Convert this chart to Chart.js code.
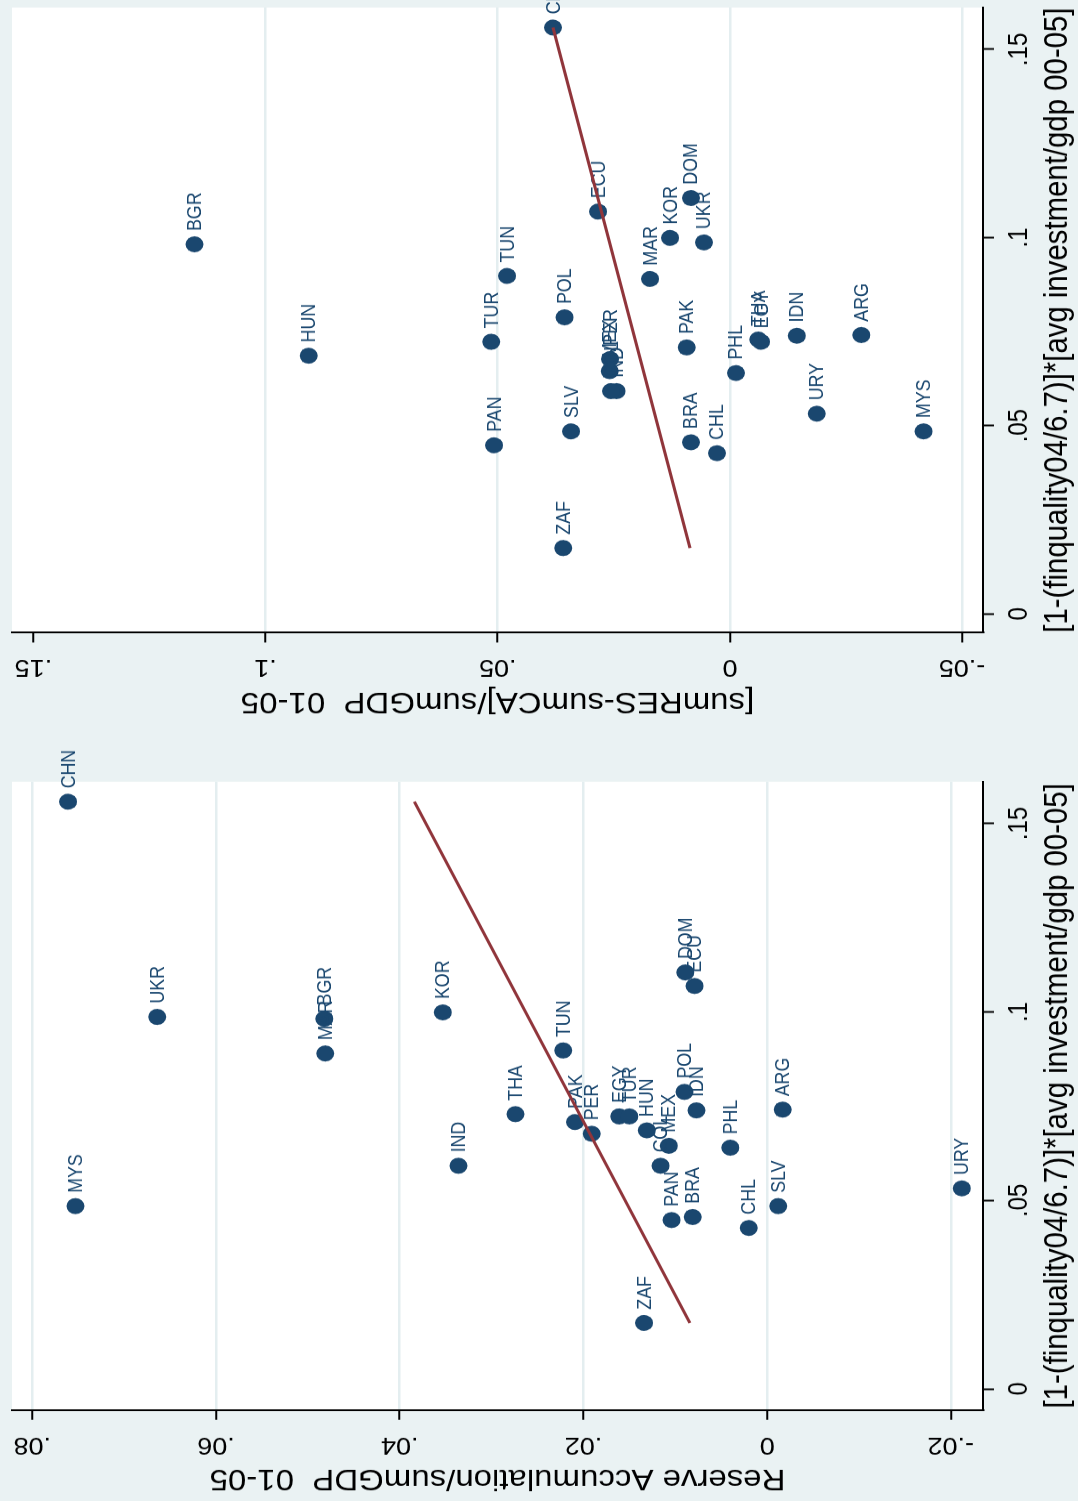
<!DOCTYPE html>
<html>
<head>
<meta charset="utf-8">
<title>Reserve accumulation and investment</title>
<script src="https://cdn.jsdelivr.net/npm/chart.js@4.4.1/dist/chart.umd.min.js"></script>
<style>
  html, body { margin: 0; padding: 0; background: #eaf2f3; overflow: hidden; }
  body { width: 1078px; height: 1501px; position: relative; }
  #fig { position: absolute; left: 0; top: 0; height: 1078px; transform-origin: 0 0; background: #eaf2f3; }
  #fig canvas { position: absolute; top: 0; }
</style>
</head>
<body>
<div id="fig">
  <canvas id="leftChart"></canvas>
  <canvas id="rightChart"></canvas>
</div>
<script>
// country codes, same order in every series below
const countries = ['CHN','MYS','UKR','MAR','BGR','KOR','IND','THA','TUN','PAK','PER','EGY','TUR','HUN',
  'ZAF','MEX','COL','PAN','POL','DOM','BRA','ECU','IDN','PHL','CHL','SLV','ARG','URY'];

// [1-(finquality04/6.7)]*[avg investment/gdp 00-05]
const investment = [0.1558, 0.0485, 0.0987, 0.0890, 0.0982, 0.0999, 0.0592, 0.0729, 0.0898, 0.0708,
  0.0677, 0.0723, 0.0723, 0.0686, 0.0175, 0.0645, 0.0592, 0.0448, 0.0788, 0.1105,
  0.0456, 0.1069, 0.0739, 0.0640, 0.0427, 0.0485, 0.0741, 0.0532];

// Reserve Accumulation/sumGDP 01-05
const reserveAcc = [0.0761, 0.0753, 0.0664, 0.0481, 0.0482, 0.0353, 0.0336, 0.0274, 0.0222, 0.0209,
  0.0191, 0.0161, 0.0150, 0.0131, 0.0134, 0.0107, 0.0116, 0.0104, 0.0090, 0.0089,
  0.0081, 0.0079, 0.0077, 0.0040, 0.0020, -0.0012, -0.0017, -0.0212];

// [sumRES-sumCA]/sumGDP 01-05
const reserveNetCA = [0.0381, -0.0417, 0.0056, 0.0172, 0.1153, 0.0129, 0.0244, -0.0061, 0.0480, 0.0093,
  0.0258, -0.0067, 0.0514, 0.0907, 0.0359, 0.0259, 0.0256, 0.0508, 0.0356, 0.0084,
  0.0084, 0.0284, -0.0144, -0.0013, 0.0028, 0.0342, -0.0283, -0.0187];

// fitted lines, evaluated at the ends of the investment range
const fitInvest = [0.0175, 0.1558];
const fitReserveAcc = [0.0084, 0.0384];
const fitReserveNetCA = [0.0086, 0.0381];

// tick marks and their labels
const investTicks = [0, 0.05, 0.1, 0.15];
const investTickLabels = ['0', '.05', '.1', '.15'];
const accTicks = [-0.02, 0, 0.02, 0.04, 0.06, 0.08];
const accTickLabels = ['-.02', '0', '.02', '.04', '.06', '.08'];
const netTicks = [-0.05, 0, 0.05, 0.1, 0.15];
const netTickLabels = ['-.05', '0', '.05', '.1', '.15'];

const NAVY = '#1a476f';
const MAROON = '#90353b';
const GRID = '#e4eef0';
const FONT = '"Liberation Sans", Arial, Helvetica, sans-serif';

// the two graphs sit side by side, squeezed horizontally, then turned on their side
const SQUEEZE = 0.89;
const leftW = Math.round(750 / SQUEEZE);
const rightW = Math.round(751 / SQUEEZE);
const axisW = 91 / SQUEEZE;

const fig = document.getElementById('fig');
fig.style.width = (leftW + rightW) + 'px';
fig.style.transform = 'translate(0px, 1501px) rotate(-90deg) scale(' + SQUEEZE + ', 1)';

Chart.defaults.font.family = FONT;
Chart.defaults.color = '#000';

// white plot region
const plotBackground = {
  id: 'plotBackground',
  beforeDraw(chart) {
    const { ctx, chartArea: a } = chart;
    ctx.save();
    ctx.fillStyle = '#ffffff';
    ctx.fillRect(a.left, a.top, a.right - a.left, a.bottom - a.top);
    ctx.restore();
  }
};

// country code to the right of each marker
const pointLabels = {
  id: 'pointLabels',
  afterDatasetDraw(chart, args) {
    if (args.index !== 0) return;
    const ctx = chart.ctx;
    ctx.save();
    ctx.font = '20px ' + FONT;
    ctx.fillStyle = NAVY;
    ctx.textAlign = 'left';
    ctx.textBaseline = 'middle';
    args.meta.data.forEach((pt, i) => {
      ctx.fillText(countries[i], pt.x + 15, pt.y + 1);
    });
    ctx.restore();
  }
};

// fixed axis boxes, no extra room for overhanging tick labels
function fixBox(s, size) {
  if (s.isHorizontal()) s.height = size; else s.width = size;
  s.paddingTop = 0;
  s.paddingBottom = 0;
  s.paddingLeft = 0;
  s.paddingRight = 0;
}

function makeChart(id, cfg) {
  const canvas = document.getElementById(id);
  canvas.width = cfg.width;
  canvas.height = 1078;
  canvas.style.left = cfg.left + 'px';

  const points = countries.map((c, i) => ({ x: investment[i], y: cfg.values[i] }));
  const fit = fitInvest.map((x, i) => ({ x: x, y: cfg.fit[i] }));

  return new Chart(canvas, {
    type: 'scatter',
    data: {
      datasets: [
        {
          data: points,
          pointRadius: 9,
          pointHoverRadius: 9,
          backgroundColor: NAVY,
          borderWidth: 0,
          order: 1
        },
        {
          type: 'line',
          data: fit,
          borderColor: MAROON,
          borderWidth: 3,
          pointRadius: 0,
          fill: false,
          order: 0
        }
      ]
    },
    options: {
      responsive: false,
      animation: false,
      devicePixelRatio: 1,
      layout: { padding: { left: cfg.padLeft, right: cfg.padRight, top: 12, bottom: 0 } },
      plugins: { legend: { display: false }, tooltip: { enabled: false } },
      scales: {
        x: {
          type: 'linear',
          min: cfg.xMin,
          max: cfg.xMax,
          afterBuildTicks: s => { s.ticks = investTicks.map(v => ({ value: v })); },
          afterFit: s => fixBox(s, 95),
          grid: { drawOnChartArea: false, tickLength: 11, tickWidth: 2, tickColor: '#000' },
          border: { display: true, color: '#000', width: 2 },
          ticks: {
            autoSkip: false, minRotation: 0, maxRotation: 0, padding: 9,
            font: { size: 27 },
            callback: (v, i) => investTickLabels[i]
          },
          title: {
            display: true,
            text: '[1-(finquality04/6.7)]*[avg investment/gdp 00-05]',
            font: { size: 33 },
            padding: { top: 0, bottom: 0 }
          }
        },
        y: {
          type: 'linear',
          min: cfg.yMin,
          max: cfg.yMax,
          afterBuildTicks: s => { s.ticks = cfg.ticks.map(v => ({ value: v })); },
          afterFit: s => fixBox(s, axisW),
          grid: {
            color: ctx => (ctx.tick && cfg.noGrid.includes(ctx.tick.value)) ? 'rgba(0,0,0,0)' : GRID,
            lineWidth: 2.5,
            tickLength: 11,
            tickWidth: 2,
            tickColor: '#000'
          },
          border: { display: true, color: '#000', width: 2 },
          ticks: {
            autoSkip: false, minRotation: 90, maxRotation: 90, crossAlign: 'center', padding: 4,
            font: { size: 27 },
            callback: (v, i) => cfg.tickLabels[i]
          },
          title: {
            display: true,
            text: cfg.title,
            font: { size: 33 },
            padding: { top: 6, bottom: 0 }
          }
        }
      }
    },
    plugins: [plotBackground, pointLabels]
  });
}

makeChart('leftChart', {
  width: leftW, left: 0,
  padLeft: 0, padRight: 31 / SQUEEZE,
  values: reserveAcc, fit: fitReserveAcc,
  xMin: -0.0056, xMax: 0.1611,
  yMin: -0.0235, yMax: 0.0822,
  ticks: accTicks, tickLabels: accTickLabels, noGrid: [],
  title: 'Reserve Accumulation/sumGDP  01-05'
});

makeChart('rightChart', {
  width: rightW, left: leftW,
  padLeft: 27 / SQUEEZE, padRight: 5 / SQUEEZE,
  values: reserveNetCA, fit: fitReserveNetCA,
  xMin: -0.0050, xMax: 0.1611,
  yMin: -0.0545, yMax: 0.1546,
  ticks: netTicks, tickLabels: netTickLabels, noGrid: [0.15],
  title: '[sumRES-sumCA]/sumGDP  01-05'
});
</script>
</body>
</html>
